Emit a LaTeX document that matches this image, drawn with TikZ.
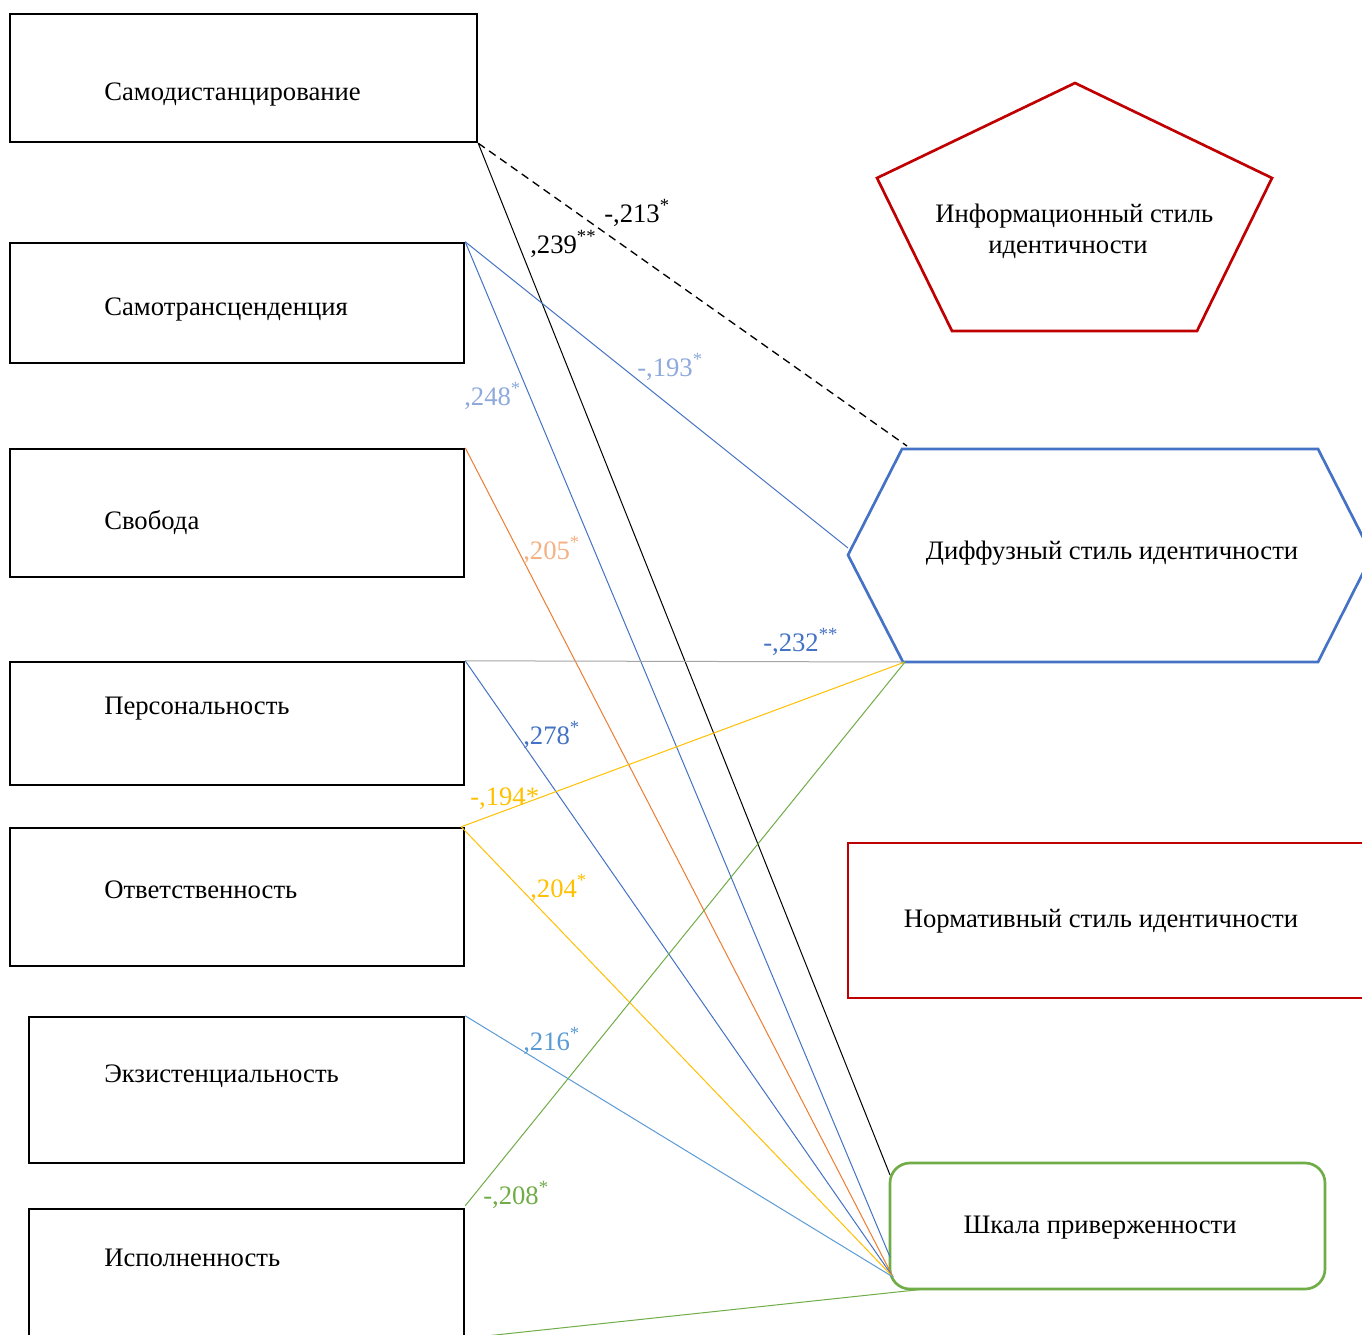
\documentclass[tikz,border=0pt]{standalone}
\usepackage{fontspec}
\setmainfont{Liberation Serif}
\usetikzlibrary{fit}
\definecolor{cred}{HTML}{C00000}
\definecolor{cblue}{HTML}{4472C4}
\definecolor{cgreen}{HTML}{70AD47}
\definecolor{corange}{HTML}{ED7D31}
\definecolor{cyellow}{HTML}{FFC000}
\definecolor{clblue}{HTML}{5B9BD5}
\definecolor{cgray}{HTML}{A5A5A5}
\definecolor{cpale}{HTML}{8EA9DB}
\definecolor{cpeach}{HTML}{F4B183}
\begin{document}
\begin{tikzpicture}[x=0.75pt,y=-0.75pt,
  box/.style={draw=black,line width=1.8pt,inner sep=0pt},
  shapeline/.style={line width=2pt,line join=miter},
  txt/.style={font=\fontsize{20}{24}\selectfont,inner sep=0pt},
  lbl/.style={font=\fontsize{20}{24}\selectfont,inner sep=0pt,anchor=base west},
  conn/.style={line width=0.75pt}]
\clip (0,0) rectangle (1362,1334);
\fill[white] (0,0) rectangle (1362,1334);

% left boxes
\node[box,fit={(10,14) (477,142)}] (b1) {};
\node[box,fit={(10,243) (464,363)}] (b2) {};
\node[box,fit={(10,449) (464,577)}] (b3) {};
\node[box,fit={(10,662) (464,785)}] (b4) {};
\node[box,fit={(10,828) (464,966)}] (b5) {};
\node[box,fit={(29,1017) (464,1163)}] (b6) {};
\node[box,fit={(29,1209) (464,1337)}] (b7) {};

\node[lbl] (t1) at (104,101) {Самодистанцирование};
\node[lbl] (t2) at (104,315) {Самотрансценденция};
\node[lbl] (t3) at (104,529) {Свобода};
\node[lbl] (t4) at (104,714) {Персональность};
\node[lbl] (t5) at (104,898) {Ответственность};
\node[lbl] (t6) at (104,1082) {Экзистенциальность};
\node[lbl] (t7) at (104,1266) {Исполненность};

% pentagon
\coordinate (p1) at (1075,83);
\coordinate (p2) at (1272,178);
\coordinate (p3) at (1197,331);
\coordinate (p4) at (952,331);
\coordinate (p5) at (877,178);
\draw[shapeline,cred] (p1) -- (p2) -- (p3) -- (p4) -- (p5) -- cycle;
\node[lbl] (pt1) at (935,222) {Информационный стиль};
\node[lbl] (pt2) at (988,253) {идентичности};

% hexagon
\coordinate (h1) at (902,449);
\coordinate (h2) at (1318,449);
\coordinate (h3) at (1372,555);
\coordinate (h4) at (1318,662);
\coordinate (h5) at (903,662);
\coordinate (h6) at (848,555);
\draw[shapeline,cblue] (h1) -- (h2) -- (h3) -- (h4) -- (h5) -- (h6) -- cycle;
\node[txt] (ht) at (1112,553) {Диффузный стиль идентичности};
\coordinate (hin) at (848,548);
\coordinate (htop) at (907,446);
\coordinate (hbot) at (905,662);

% normative
\node[draw=cred,line width=1.5pt,inner sep=0pt,fit={(848,843) (1420,998)}] (norm) {};
\node[txt] (nt) at (1101,921) {Нормативный стиль идентичности};

% adherence scale
\node[draw=cgreen,line width=2pt,rounded corners=15pt,inner sep=0pt,fit={(890,1163) (1325,1289)}] (sc) {};
\node[txt] (st) at (1100,1228) {Шкала приверженности};
\coordinate (sA) at (890,1257);
\coordinate (sB) at (893,1277);
\coordinate (sC) at (890,1175);
\coordinate (sD) at (925,1289);

% connectors
\draw[conn,black] (b1.south east) -- (sC);
\draw[conn,black,dash pattern=on 6pt off 4pt,line width=1pt] (b1.south east) -- (htop);
\draw[conn,cblue] (b2.north east) -- (hin);
\draw[conn,cblue] (b2.north east) -- (sA);
\draw[conn,corange] (b3.north east) -- (sB);
\draw[conn,cgray] (b4.north east) -- (h5);
\draw[conn,cblue] (b4.north east) -- (sB);
\draw[conn,cyellow] ([xshift=-3pt]b5.north east) -- (hbot);
\draw[conn,cyellow] ([xshift=-3pt]b5.north east) -- (sB);
\draw[conn,clblue] (b6.north east) -- (sB);
\draw[conn,cgreen] ([yshift=1.5pt]b7.north east) -- (hbot);
\draw[conn,cgreen] (b7.south east) -- (sD);

% labels
\node[lbl,black] (l1) at (604,222) {-,213\textsuperscript{*}};
\node[lbl,black] (l2) at (530,253) {,239\textsuperscript{**}};
\node[lbl,cpale] (l3) at (637,376) {-,193\textsuperscript{*}};
\node[lbl,cpale] (l4) at (464,405) {,248\textsuperscript{*}};
\node[lbl,cpeach] (l5) at (523,559) {,205\textsuperscript{*}};
\node[lbl,cblue] (l6) at (763,651) {-,232\textsuperscript{**}};
\node[lbl,cblue] (l7) at (523,744) {,278\textsuperscript{*}};
\node[lbl,cyellow] (l8) at (470,805) {-,194*};
\node[lbl,cyellow] (l9) at (530,897) {,204\textsuperscript{*}};
\node[lbl,clblue] (l10) at (523,1050) {,216\textsuperscript{*}};
\node[lbl,cgreen] (l11) at (483,1204) {-,208\textsuperscript{*}};
\end{tikzpicture}
\end{document}
